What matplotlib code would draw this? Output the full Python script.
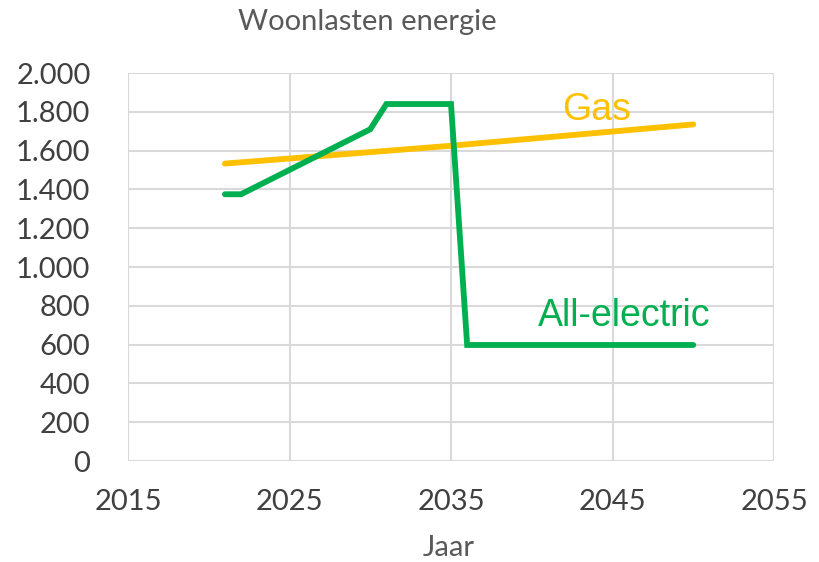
import matplotlib
matplotlib.use("Agg")
import matplotlib.pyplot as plt
from matplotlib.ticker import FuncFormatter, MultipleLocator

# data
gas_years = [2021, 2035, 2050]
gas_values = [1533, 1625, 1735]

elec_years = [2021, 2022, 2030, 2031, 2035, 2036, 2050]
elec_values = [1375, 1375, 1710, 1840, 1840, 598, 598]

x_ticks = [2015, 2025, 2035, 2045, 2055]

GAS = "#FFC000"
GREEN = "#00B050"
TXT = "#595959"

fig = plt.figure(figsize=(8.19, 5.62), dpi=100)
ax = fig.add_axes([128 / 819, 1 - 461 / 562, (774 - 128) / 819, (461 - 73) / 562])

ax.plot(gas_years, gas_values, color=GAS, lw=4.2, solid_capstyle="round", zorder=3)
ax.plot(elec_years, elec_values, color=GREEN, lw=4.2, solid_capstyle="round",
        solid_joinstyle="miter", zorder=3)

ax.set_xlim(2015, 2055)
ax.set_ylim(0, 2000)
ax.set_xticks(x_ticks)
ax.yaxis.set_major_locator(MultipleLocator(200))
ax.yaxis.set_major_formatter(FuncFormatter(lambda v, p: f"{int(v):,}".replace(",", ".")))

ax.grid(True, color="#d9d9d9", lw=1.5)
ax.set_axisbelow(True)
for s in ax.spines.values():
    s.set_visible(False)
ax.tick_params(axis="y", length=0, labelsize=21, labelcolor="#404040", pad=27)
ax.tick_params(axis="x", length=0, labelsize=21, labelcolor="#404040", pad=20)
for lab in ax.get_xticklabels() + ax.get_yticklabels():
    lab.set_family("Lato")

fig.text(449 / 819, 1 - 548 / 562, "Jaar", fontsize=21, color=TXT, family="Lato",
         ha="center", va="center")
fig.text(367 / 819, 1 - 22 / 562, "Woonlasten energie", fontsize=21, color=TXT,
         family="Lato", ha="center", va="center")

ax.text(2044, 1810, "Gas", color=GAS, fontsize=27, family="Liberation Sans",
        ha="center", va="center")
ax.text(2045.7, 745, "All-electric", color=GREEN, fontsize=27, family="Liberation Sans",
        ha="center", va="center")

fig.savefig("out.png", dpi=100)
